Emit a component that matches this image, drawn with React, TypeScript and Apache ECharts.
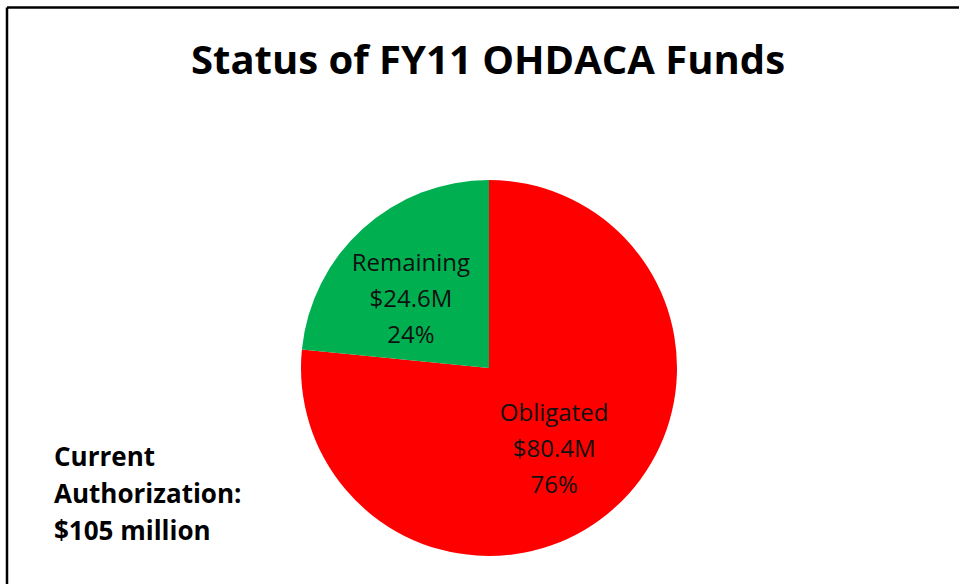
import React, { useEffect, useRef } from "react";
import * as echarts from "echarts";

const categories = ["Obligated", "Remaining"];
const amountsM = [80.4, 24.6];
const percents = [76, 24];
const colors = ["#FF0000", "#00B050"];
const titleText = "Status of FY11 OHDACA Funds";
const noteLines = ["Current", "Authorization:", "$105 million"];

export default function App() {
  const ref = useRef<HTMLDivElement>(null);
  useEffect(() => {
    if (!ref.current) return;
    const chart = echarts.init(ref.current, null, { renderer: "svg" });
    const data = categories.map((name, i) => ({
      name,
      value: amountsM[i],
      itemStyle: { color: colors[i] },
    }));
    chart.setOption({
      animation: false,
      backgroundColor: "#ffffff",
      graphic: [
        {
          type: "line",
          shape: { x1: 7, y1: 7.5, x2: 959, y2: 7.5 },
          style: { stroke: "#000", lineWidth: 2.5 },
        },
        {
          type: "line",
          shape: { x1: 7, y1: 7.5, x2: 7, y2: 584 },
          style: { stroke: "#000", lineWidth: 2.5 },
        },
        {
          type: "text",
          x: 488,
          y: 58,
          style: {
            text: titleText,
            font: "bold 40px 'Open Sans'",
            fill: "#000",
            align: "center",
            verticalAlign: "middle",
          },
        },
        {
          type: "text",
          x: 54,
          y: 493,
          style: {
            text: noteLines.join("\n"),
            font: "bold 26px 'Open Sans'",
            lineHeight: 37,
            fill: "#000",
            align: "left",
            verticalAlign: "middle",
          },
        },
      ],
      series: [
        {
          type: "pie",
          center: [489, 368],
          radius: 188,
          startAngle: 90,
          clockwise: true,
          silent: true,
          emphasis: { disabled: true },
          label: {
            show: true,
            position: "inside",
            color: "#111",
            fontFamily: "Open Sans",
            fontSize: 24,
            lineHeight: 36,
            formatter: (p: any) =>
              `${p.name}\n$${amountsM[p.dataIndex]}M\n${percents[p.dataIndex]}%`,
          },
          labelLayout: (p: any) =>
            p.dataIndex === 1 ? { dx: -13, dy: 1 } : { dx: 0, dy: 8 },
          labelLine: { show: false },
          data,
        },
      ],
    });
    return () => chart.dispose();
  }, []);
  return (
    <div
      ref={ref}
      style={{ position: "fixed", left: 0, top: 0, width: 959, height: 584 }}
    />
  );
}
